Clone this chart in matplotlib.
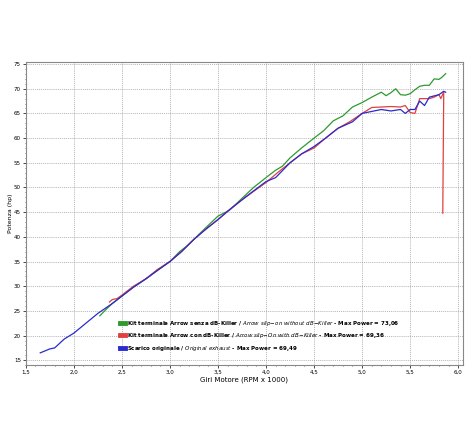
import matplotlib
matplotlib.use("Agg")
import matplotlib.pyplot as plt
from matplotlib.ticker import MultipleLocator, FuncFormatter

green_x = [2.27, 2.33, 2.4, 2.5, 2.62, 2.75, 2.87, 3.0, 3.1, 3.18, 3.25, 3.37, 3.5, 3.62, 3.75, 3.87, 4.0, 4.1, 4.17, 4.25,
           4.37, 4.5, 4.6, 4.7, 4.8, 4.9, 5.0, 5.1, 5.2, 5.25, 5.3, 5.35, 5.4, 5.45, 5.5, 5.55, 5.6, 5.65, 5.7, 5.75, 5.8, 5.83, 5.87]
green_y = [24.0, 25.2, 26.5, 28.0, 29.8, 31.5, 33.2, 35.0, 37.0, 38.2, 39.5, 41.8, 44.2, 45.4, 47.8, 50.0, 52.0, 53.5, 54.3, 56.0,
           58.0, 60.0, 61.5, 63.5, 64.5, 66.3, 67.2, 68.3, 69.3, 68.6, 69.2, 70.0, 68.8, 68.7, 69.0, 69.8, 70.5, 70.7, 70.7, 72.0, 71.9, 72.3, 73.06]

red_x = [2.37, 2.4, 2.45, 2.5, 2.62, 2.75, 2.87, 3.0, 3.12, 3.25, 3.37, 3.5, 3.62, 3.75, 3.87, 4.0, 4.12, 4.25, 4.37, 4.5, 4.62,
         4.75, 4.87, 5.0, 5.1, 5.2, 5.3, 5.4, 5.45, 5.5, 5.55, 5.6, 5.7, 5.75, 5.8, 5.82, 5.85, 5.84]
red_y = [26.8, 27.3, 27.5, 28.2, 30.0, 31.5, 33.4, 35.0, 37.0, 39.5, 41.5, 43.5, 45.5, 47.5, 49.2, 51.0, 53.0, 55.0, 56.8, 58.0, 60.0,
         62.0, 63.3, 65.0, 66.2, 66.3, 66.4, 66.3, 66.6, 65.2, 65.0, 68.0, 68.0, 68.3, 68.8, 68.0, 69.36, 44.8]

blue_x = [1.65, 1.75, 1.8, 1.9, 2.0, 2.1, 2.25, 2.4, 2.5, 2.62, 2.75, 2.87, 3.0, 3.12, 3.25, 3.37, 3.5, 3.62, 3.75, 3.87, 4.0,
          4.1, 4.25, 4.37, 4.5, 4.62, 4.75, 4.9, 5.0, 5.1, 5.2, 5.3, 5.4, 5.45, 5.5, 5.55, 5.6, 5.65, 5.7, 5.8, 5.85, 5.87]
blue_y = [16.5, 17.3, 17.5, 19.3, 20.5, 22.1, 24.5, 26.5, 28.0, 29.8, 31.5, 33.2, 35.0, 37.0, 39.5, 41.5, 43.5, 45.5, 47.5, 49.3, 51.2,
          52.0, 55.0, 56.8, 58.3, 60.0, 62.0, 63.3, 65.0, 65.4, 65.8, 65.5, 65.8, 65.0, 65.8, 65.8, 67.5, 66.6, 68.3, 68.8, 69.49, 69.3]

labels = [
    r"Kit terminale Arrow senza dB-Killer / $\it{Arrow\ slip\!-\!on\ without\ dB\!-\!Killer}$ - Max Power = 73,06",
    r"Kit terminale Arrow con dB-Killer / $\it{Arrow\ slip\!-\!On\ with\ dB\!-\!Killer}$ - Max Power = 69,36",
    r"Scarico originale / $\it{Original\ exhaust}$ - Max Power = 69,49",
]

plt.rcParams["mathtext.fontset"] = "dejavusans"
plt.rcParams["mathtext.it"] = "DejaVu Sans:italic:bold"

fig = plt.figure(figsize=(4.7, 4.4), dpi=100)
ax = fig.add_axes([0.055, 0.17, 0.93, 0.69])
ax.plot(green_x, green_y, color="#2e9a2e", lw=0.9, label=labels[0])
ax.plot(red_x, red_y, color="#e04040", lw=0.9, label=labels[1])
ax.plot(blue_x, blue_y, color="#2a2ad0", lw=0.9, label=labels[2])

ax.set_xlim(1.5, 6.05)
ax.set_ylim(14, 75.5)
ax.xaxis.set_major_locator(MultipleLocator(0.5))
ax.yaxis.set_major_locator(MultipleLocator(5))
ax.yaxis.set_minor_locator(MultipleLocator(1))
ax.xaxis.set_minor_locator(MultipleLocator(0.1))
ax.xaxis.set_major_formatter(FuncFormatter(lambda v, p: f"{v:.1f}".replace(".", ",")))
ax.tick_params(labelsize=4, length=2, width=0.5, pad=1.5)
ax.tick_params(which="minor", length=1, width=0.4)
ax.grid(True, color="#999999", ls=(0, (1.5, 1.5)), lw=0.5)
for s in ax.spines.values():
    s.set_color("#888888")
    s.set_linewidth(0.8)
ax.set_xlabel("Giri Motore (RPM x 1000)", fontsize=5, labelpad=1)
ax.set_ylabel("Potenza (hp)", fontsize=4.5, labelpad=1)

leg = ax.legend(loc="lower left", bbox_to_anchor=(0.205, 0.025), frameon=False,
                prop={"size": 4, "weight": "bold"},
                handlelength=0.8, handleheight=0.8, handletextpad=0.3, labelspacing=0.6)
for h in leg.legend_handles:
    h.set_linewidth(3.5)

fig.savefig("out.png", dpi=100, facecolor="white")
